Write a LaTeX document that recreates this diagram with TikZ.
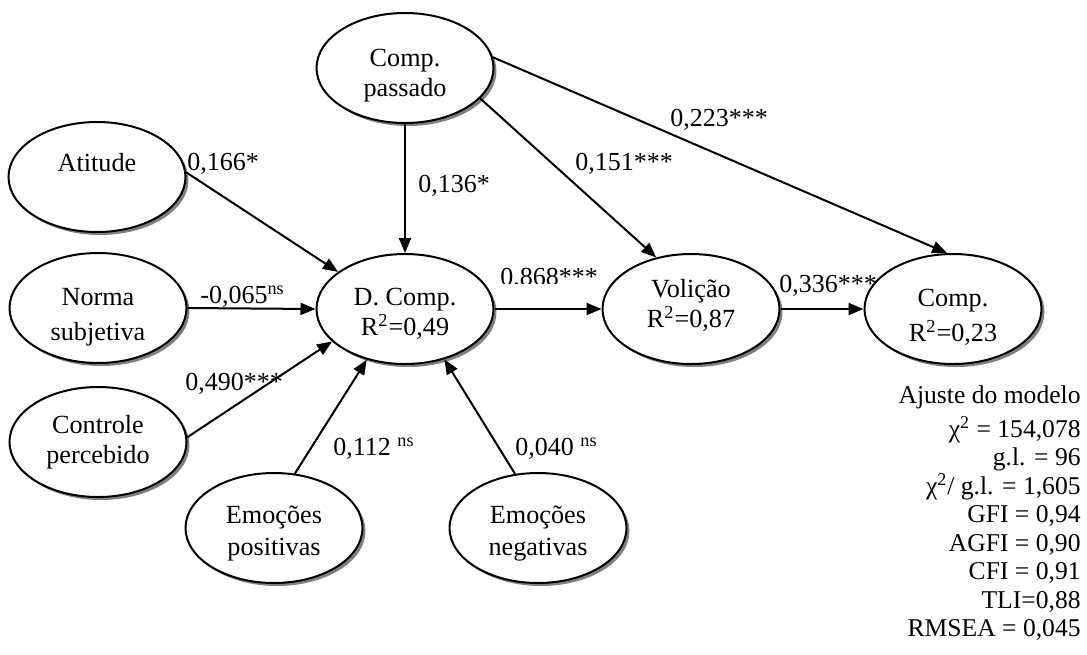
\documentclass[tikz,border=0pt]{standalone}
\usepackage{fontspec}
\setmainfont{Liberation Serif}
\usetikzlibrary{shapes.geometric,arrows.meta,shadows}
\newcommand{\lift}[1]{\rule{0pt}{#1}}
\newcommand{\sink}[1]{\rule[-#1]{0pt}{#1}}
\begin{document}
\begin{tikzpicture}[x=0.5pt,y=-0.5pt,
  lv/.style={ellipse,draw,line width=1pt,fill=white,minimum width=88.5pt,minimum height=55pt,inner sep=0pt,align=center,
    font=\fontsize{13.1}{15}\selectfont,
    drop shadow={shadow xshift=1.5pt,shadow yshift=-1.5pt,fill=gray,opacity=1}},
  lvwide/.style={lv,font=\fontsize{13.1}{17.5}\selectfont},
  arr/.style={line width=1pt,-{Triangle[length=7.5pt,width=6pt]}},
  coef/.style={font=\fontsize{13}{15}\selectfont,inner sep=0pt,anchor=base west}]
\useasboundingbox (0,0) rectangle (1087,654);

% latent variables
\node[lv] (cp) at (405,68) {\lift{16.2pt}Comp.\\passado};
\node[lv] (att) at (97,177) {Atitude\\\mbox{}};
\node[lvwide] (nor) at (98,308) {\lift{17.7pt}Norma\\subjetiva};
\node[lv] (ctl) at (98,442) {Controle\\percebido};
\node[lv] (dc) at (405,309) {\lift{13.7pt}D. Comp.\\R\textsuperscript{2}=0,49};
\node[lv] (vol) at (691,309) {Volição\\R\textsuperscript{2}=0,87\sink{5.8pt}};
\node[lvwide] (cmp) at (953,309) {\lift{16.7pt}Comp.\\R\textsuperscript{2}=0,23};
\node[lv,font=\fontsize{13.1}{16}\selectfont] (ep) at (274,528) {\lift{14.2pt}Emoções\\positivas};
\node[lv,font=\fontsize{13.1}{16}\selectfont] (en) at (538,528) {\lift{14.2pt}Emoções\\negativas};

% paths
\draw[arr] (att.3) -- (dc.151);
\draw[arr] (nor.east) -- (dc.west);
\draw[arr] (ctl.3) -- (dc.204);
\draw[arr] (ep.69) -- (dc.233);
\draw[arr] (en.113) -- (dc.308);
\draw[arr] (cp.south) -- (dc.north);
\draw[arr] (cp.338) -- (vol.124);
\draw[arr] (cp.7) -- (cmp.96);
\draw[arr] (dc.east) -- (vol.west);
\draw[arr] (vol.east) -- (cmp.west);

% coefficients
\node[coef] (l1) at (187,170) {0,166*};
\node[coef] (l2) at (418,192) {0,136*};
\node[coef] (l3) at (575,170) {0,151***};
\node[coef] (l4) at (670,126) {0,223***};
\node[coef] (l5) at (200,303) {-0,065\textsuperscript{ns}};
\node[coef] (l6) at (185,390) {0,490***};
\begin{scope}
  \clip (490,250) rectangle (620,283);
  \node[coef] (l7) at (500,285) {0,868***};
\end{scope}
\node[coef] (l8) at (779,292) {0,336***};
\node[coef] (l9) at (333,455) {0,112 \textsuperscript{ns}};
\node[coef] (l10) at (515,455) {0,040 \textsuperscript{ns}};

% model fit
\node[anchor=north east,inner sep=0pt,align=right,font=\fontsize{12.8}{14.25}\selectfont] (fit) at (1081,385)
  {Ajuste do modelo\\[2.75pt]
   χ\textsuperscript{2} = 154,078\\
   g.l. = 96\\
   χ\textsuperscript{2}/ g.l. = 1,605\\
   GFI = 0,94\\
   AGFI = 0,90\\
   CFI = 0,91\\
   TLI=0,88\\
   RMSEA = 0,045};
\end{tikzpicture}
\end{document}
